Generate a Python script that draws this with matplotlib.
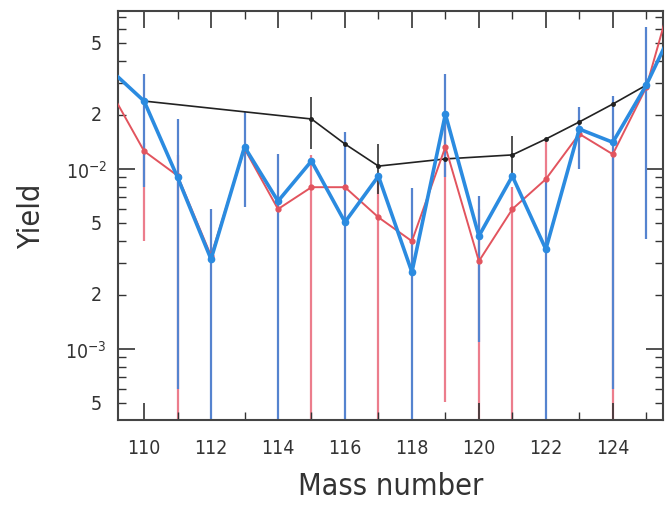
import matplotlib
matplotlib.use("Agg")
import matplotlib.pyplot as plt
import numpy as np
from matplotlib.ticker import FixedLocator, FixedFormatter, LogLocator, NullFormatter, MultipleLocator

plt.rcParams["font.family"] = ["DejaVu Sans"]
plt.rcParams["font.stretch"] = "condensed"

# mass numbers
mass_black = [109, 110, 115, 116, 117, 119, 121, 122, 123, 124, 125]
yield_black = [0.0355, 0.0239, 0.0190, 0.0138, 0.0104, 0.0114, 0.0120, 0.0147, 0.0183, 0.0230, 0.0293]

mass = [109, 110, 111, 112, 113, 114, 115, 116, 117, 118, 119, 120, 121, 122, 123, 124, 125, 126]
yield_blue = [0.0355, 0.0239, 0.0090, 0.00316, 0.0133, 0.00664, 0.0111, 0.00508, 0.00915,
              0.00268, 0.0202, 0.00425, 0.00915, 0.00359, 0.0167, 0.0141, 0.0293, 0.072]
yield_red = [0.0271, 0.0126, 0.0092, 0.0033, 0.0130, 0.0060, 0.00794, 0.00794, 0.0054,
             0.00398, 0.0133, 0.00308, 0.0060, 0.0088, 0.0157, 0.0121, 0.0285, 0.13]

# error bar ranges (low, high); bars reaching the floor use 1e-4
err_blue_mass = [110, 111, 112, 113, 114, 116, 118, 119, 120, 122, 123, 124, 125]
err_blue_low = [0.008, 0.0006, 1e-4, 0.00615, 1e-4, 1e-4, 1e-4, 0.009, 0.0011, 1e-4, 0.010, 0.0006, 0.0041]
err_blue_high = [0.0338, 0.019, 0.006, 0.0207, 0.0121, 0.0161, 0.0079, 0.0338, 0.0071, 0.0088, 0.0221, 0.0254, 0.0615]

err_red_mass = [110, 111, 115, 117, 119, 120, 121, 122, 124]
err_red_low = [0.0040, 1e-4, 1e-4, 1e-4, 0.000508, 1e-4, 1e-4, 0.0088, 1e-4]
err_red_high = [0.014, 0.012, 0.012, 0.009, 0.02, 0.006, 0.008, 0.0147, 0.012]

err_black_mass = [115, 117, 121]
err_black_low = [0.0129, 0.0073, 0.009]
err_black_high = [0.0251, 0.0138, 0.0153]

blue = "#2b8be0"
red = "#e2545e"
blue_bar = "#5583cf"
red_bar = "#ec7d8c"

fig, ax = plt.subplots(figsize=(6.65, 5.06), dpi=100)
fig.subplots_adjust(left=0.1774, right=0.997, bottom=0.168, top=0.976)

ax.vlines(err_red_mass, err_red_low, err_red_high, color=red_bar, lw=1.6, zorder=1)
ax.vlines(err_blue_mass, err_blue_low, err_blue_high, color=blue_bar, lw=1.6, zorder=2)
ax.vlines(err_black_mass, err_black_low, err_black_high, color="#333333", lw=1.2, zorder=2)

ax.plot(mass_black, yield_black, color="#222222", lw=1.2, marker="o", ms=2.5, zorder=3)
ax.plot(mass, yield_red, color=red, lw=1.4, marker="o", ms=3.5, zorder=4)
ax.plot(mass, yield_blue, color=blue, lw=2.6, marker="o", ms=4.5, zorder=5)

ax.set_yscale("log")
ax.set_xlim(109.22, 125.5)
ax.set_ylim(4.04e-4, 0.0755)

ax.xaxis.set_major_locator(MultipleLocator(2))
ax.xaxis.set_minor_locator(MultipleLocator(1))

ax.yaxis.set_major_locator(FixedLocator([1e-3, 1e-2]))
ax.yaxis.set_major_formatter(FixedFormatter([r"$10^{-3}$", r"$10^{-2}$"]))
minor_pos = [5e-4, 2e-3, 5e-3, 2e-2, 5e-2]
ax.yaxis.set_minor_locator(LogLocator(base=10, subs=np.arange(2, 10)))
ax.yaxis.set_minor_formatter(NullFormatter())
for v, lab in zip(minor_pos, ["5", "2", "5", "2", "5"]):
    ax.text(-0.03, v, lab, transform=ax.get_yaxis_transform(), ha="right", va="center",
            fontsize=14, color="#333333")

ax.tick_params(which="both", direction="in", top=True, right=True, colors="#333333",
               labelsize=14)
ax.tick_params(which="major", length=12, width=1.2)
ax.tick_params(which="minor", length=6, width=1.0)
ax.tick_params(axis="x", which="major", pad=13)
ax.tick_params(axis="y", which="major", pad=8)

for s in ax.spines.values():
    s.set_color("#444444")
    s.set_linewidth(1.5)

ax.set_xlabel("Mass number", fontsize=22, color="#333333", labelpad=10)
ax.set_ylabel("Yield", fontsize=22, color="#333333", labelpad=14)

fig.savefig("out.png", dpi=100)
